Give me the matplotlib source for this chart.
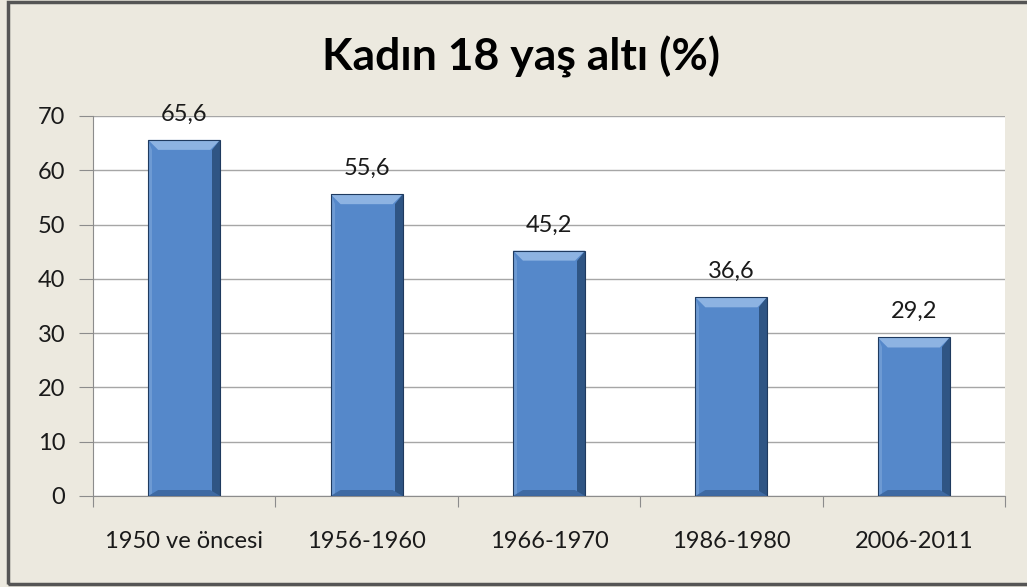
import matplotlib
matplotlib.use("Agg")
import matplotlib.pyplot as plt
from matplotlib.patches import Polygon, Rectangle
import numpy as np

# data
categories = ["1950 ve öncesi", "1956-1960", "1966-1970", "1986-1980", "2006-2011"]
values = [65.6, 55.6, 45.2, 36.6, 29.2]
labels = ["65,6", "55,6", "45,2", "36,6", "29,2"]
yticks = [0, 10, 20, 30, 40, 50, 60, 70]

plt.rcParams['font.family'] = ['Lato', 'DejaVu Sans']

bg = '#ECE9DF'
fig = plt.figure(figsize=(10.27, 5.87), dpi=100, facecolor=bg)
ax = fig.add_axes([93 / 1027, 1 - 496 / 587, 912 / 1027, 380 / 587])
ax.set_facecolor('white')

x = np.arange(len(categories))
bars = ax.bar(x, values, width=0.395, color='#5588CA', zorder=3)

ax.set_xlim(-0.5, len(categories) - 0.5)
ax.set_ylim(0, 70)
ax.set_yticks(yticks)
ax.set_yticklabels([str(t) for t in yticks], fontsize=17, color='#1A1A1A')
ax.set_xticks(np.arange(-0.5, len(categories), 1.0))
ax.set_xticklabels([])
ax.set_xticks(x, minor=True)
ax.set_xticklabels(categories, minor=True, fontsize=17, color='#1A1A1A')
ax.tick_params(axis='x', which='minor', length=0, pad=25)
ax.tick_params(axis='x', which='major', length=8, color='#8C8C8C')
ax.tick_params(axis='y', length=10, color='#8C8C8C', pad=10)
ax.grid(axis='y', color='#A6A6A6', linewidth=1.0, zorder=0)
for s in ['top', 'right']:
    ax.spines[s].set_visible(False)
for s in ['left', 'bottom']:
    ax.spines[s].set_color('#8C8C8C')

# bevel effect on bars (pixel sized, converted to data units)
px_x = 1.0 / 182.4
px_y = 70.0 / 380
bev = 10
for b in bars:
    x0, w, h = b.get_x(), b.get_width(), b.get_height()
    x1 = x0 + w
    bx, by = bev * px_x, bev * px_y
    # top bevel (light)
    ax.add_patch(Polygon([(x0, h), (x1, h), (x1 - bx, h - by), (x0 + bx, h - by)],
                         closed=True, color='#8DB3E2', zorder=4, lw=0))
    # right bevel (dark)
    ax.add_patch(Polygon([(x1, h), (x1, 0), (x1 - bx * 0.8, 0), (x1 - bx * 0.8, h - by)],
                         closed=True, color='#2F5584', zorder=4, lw=0))
    # left bevel (slightly lighter)
    ax.add_patch(Polygon([(x0, h), (x0, 0), (x0 + bx * 0.4, 0), (x0 + bx * 0.4, h - by)],
                         closed=True, color='#6D9AD3', zorder=4, lw=0))
    # bottom bevel
    ax.add_patch(Polygon([(x0, 0), (x1, 0), (x1 - bx, by * 0.6), (x0 + bx, by * 0.6)],
                         closed=True, color='#3F6AA3', zorder=4, lw=0))
    ax.add_patch(Rectangle((x0, 0), w, h, fill=False, ec='#1F3A5F', lw=0.8, zorder=5))

for xi, v, lab in zip(x, values, labels):
    ax.annotate(lab, (xi, v), xytext=(0, 11), textcoords='offset points',
                ha='center', va='bottom', fontsize=17, color='#1A1A1A', zorder=6)

fig.text(0.507, 1 - 57 / 587, "Kadın 18 yaş altı (%)", ha='center', va='center',
         fontsize=32, fontweight='bold', color='black')

# outer frame
fig.add_artist(Rectangle((8 / 1027, 3 / 587), 1.2, 1 - 5 / 587, transform=fig.transFigure,
                         fill=False, ec='#555555', lw=2.5))

fig.savefig('out.png', dpi=100, facecolor=bg)
